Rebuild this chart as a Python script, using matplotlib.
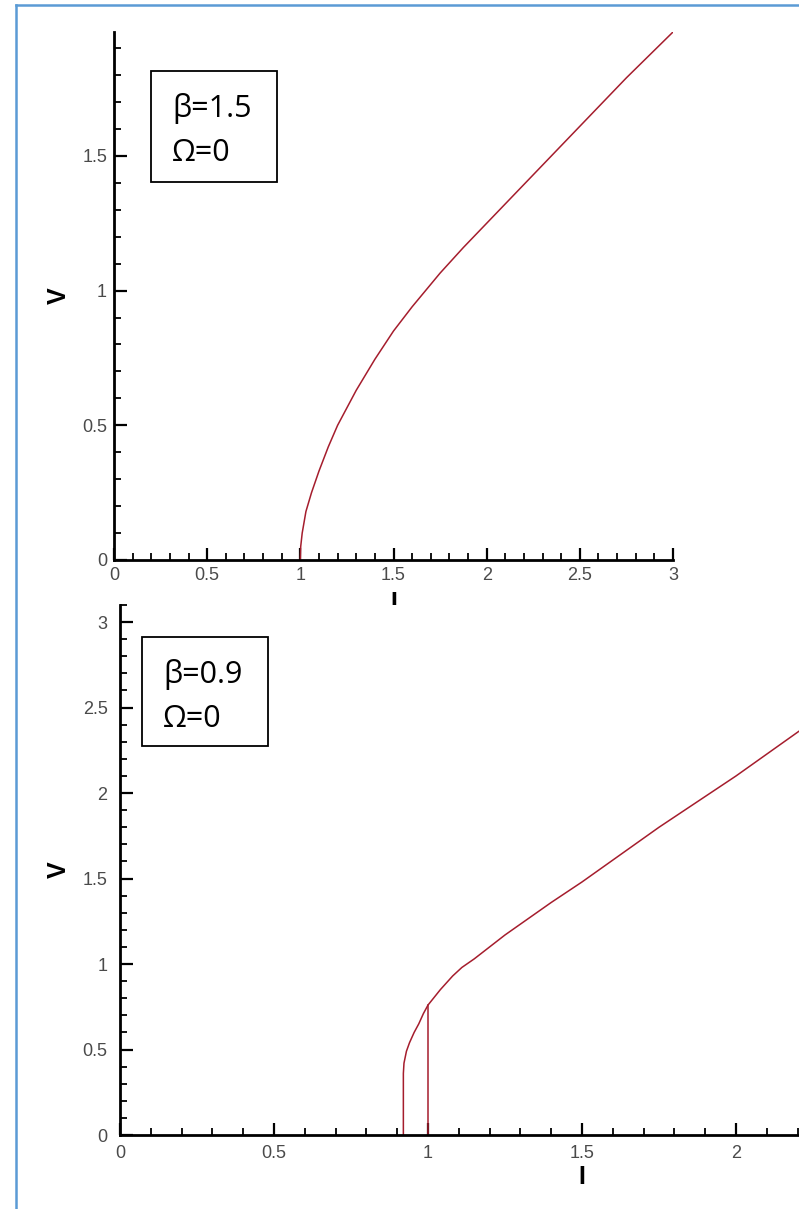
import matplotlib
matplotlib.use("Agg")
import matplotlib.pyplot as plt
from matplotlib.lines import Line2D
from matplotlib.patches import Rectangle
from matplotlib.ticker import MultipleLocator

W, H = 799, 1209

# beta = 1.5 branch (no hysteresis)
i_top = [1.0, 1.002, 1.01, 1.03, 1.06, 1.1, 1.15, 1.2, 1.3, 1.4, 1.5, 1.6,
         1.75, 1.875, 2.0, 2.25, 2.5, 2.75, 3.0]
v_top = [0.0, 0.05, 0.1, 0.18, 0.25, 0.33, 0.42, 0.5, 0.63, 0.745, 0.85, 0.94,
         1.065, 1.16, 1.25, 1.43, 1.61, 1.79, 1.96]

# beta = 0.9 branch: return path and switching jump
i_bot = [0.92, 0.92, 0.922, 0.93, 0.94, 0.955, 0.97, 0.985, 1.0, 1.04, 1.08,
         1.11, 1.15, 1.25, 1.4, 1.5, 1.75, 2.0, 2.25]
v_bot = [0.0, 0.36, 0.42, 0.49, 0.54, 0.6, 0.65, 0.71, 0.76, 0.85, 0.93,
         0.98, 1.03, 1.17, 1.36, 1.48, 1.8, 2.1, 2.42]
i_jump = [1.0, 1.0]
v_jump = [0.0, 0.76]

i_ticks_top = [0, 0.5, 1, 1.5, 2, 2.5, 3]
i_labels_top = ["0", "0.5", "1", "1.5", "2", "2.5", "3"]
i_ticks_bot = [0, 0.5, 1, 1.5, 2]
i_labels_bot = ["0", "0.5", "1", "1.5", "2"]
v_ticks_top = [0, 0.5, 1, 1.5]
v_labels_top = ["0", "0.5", "1", "1.5"]
v_ticks_bot = [0, 0.5, 1, 1.5, 2, 2.5, 3]
v_labels_bot = ["0", "0.5", "1", "1.5", "2", "2.5", "3"]

LINE = "#a51d2d"
TICK_FONT = "Liberation Sans"


def box(x0, y0, x1, y1):
    """Pixel box (top-left origin) -> figure fraction rect."""
    return [x0 / W, 1 - y1 / H, (x1 - x0) / W, (y1 - y0) / H]


def style_axes(ax, ypad, xpad):
    for side in ("top", "right"):
        ax.spines[side].set_visible(False)
    for side in ("left", "bottom"):
        ax.spines[side].set_linewidth(2.0)
        ax.spines[side].set_color("black")
    ax.xaxis.set_minor_locator(MultipleLocator(0.1))
    ax.yaxis.set_minor_locator(MultipleLocator(0.1))
    ax.tick_params(which="major", direction="in", length=9, width=1.6,
                   labelsize=13, labelcolor="#4a4a4a")
    ax.tick_params(which="minor", direction="in", length=5, width=1.3)
    ax.tick_params(axis="y", pad=ypad)
    ax.tick_params(axis="x", pad=xpad)
    for lab in ax.get_xticklabels() + ax.get_yticklabels():
        lab.set_fontfamily(TICK_FONT)


fig = plt.figure(figsize=(W / 100, H / 100), dpi=100)

# upper panel
ax1 = fig.add_axes(box(114, 32, 673, 560))
ax1.plot(i_top, v_top, color=LINE, lw=1.1)
ax1.set_xlim(0, 3)
ax1.set_ylim(0, 1.96)
ax1.set_xticks(i_ticks_top)
ax1.set_xticklabels(i_labels_top)
ax1.set_yticks(v_ticks_top)
ax1.set_yticklabels(v_labels_top)
style_axes(ax1, ypad=5, xpad=5)
ax1.set_xlabel("I", fontsize=18, fontweight="bold", family="Liberation Sans")
ax1.xaxis.set_label_coords(0.5, -0.058)
ax1.set_ylabel("V", fontsize=18, fontweight="bold", family="Liberation Sans")
ax1.yaxis.set_label_coords(-0.077, 0.5)

# lower panel, wider than the page so it runs off the right edge
ax2 = fig.add_axes(box(120, 605, 1044, 1135))
ax2.plot(i_bot, v_bot, color=LINE, lw=1.1)
ax2.plot(i_jump, v_jump, color=LINE, lw=1.1)
ax2.set_xlim(0, 3)
ax2.set_ylim(0, 3.1)
ax2.set_xticks(i_ticks_bot)
ax2.set_xticklabels(i_labels_bot)
ax2.set_yticks(v_ticks_bot)
ax2.set_yticklabels(v_labels_bot)
style_axes(ax2, ypad=9, xpad=7)
ax2.set_xlabel("I", fontsize=18, fontweight="bold", family="Liberation Sans")
ax2.xaxis.set_label_coords(0.5, -0.057)
ax2.set_ylabel("V", fontsize=18, fontweight="bold", family="Liberation Sans")
ax2.yaxis.set_label_coords(-0.053, 0.5)

# parameter boxes
BOX_FONT = ["Open Sans", "DejaVu Sans"]
for (x0, y0, x1, y1), lines in [
    ((151, 71, 277, 182), ["β=1.5", "Ω=0"]),
    ((142, 637, 268, 746), ["β=0.9", "Ω=0"]),
]:
    fig.add_artist(Rectangle((x0 / W, 1 - y1 / H), (x1 - x0) / W, (y1 - y0) / H,
                             transform=fig.transFigure, fill=True, facecolor="white",
                             edgecolor="black", lw=1.3, zorder=5))
    fig.text((x0 + 21) / W, 1 - (y0 + 46) / H, lines[0], fontsize=22,
             family=BOX_FONT, va="baseline", zorder=6)
    fig.text((x0 + 21) / W, 1 - (y0 + 90) / H, lines[1], fontsize=22,
             family=BOX_FONT, va="baseline", zorder=6)

# page frame
frame = "#5b9bd5"
fig.add_artist(Line2D([16 / W, 1.0], [1 - 5 / H, 1 - 5 / H], color=frame, lw=1.8,
                      transform=fig.transFigure))
fig.add_artist(Line2D([16 / W, 16 / W], [0.0, 1 - 5 / H], color=frame, lw=1.8,
                      transform=fig.transFigure))

fig.savefig("out.png", dpi=100)
